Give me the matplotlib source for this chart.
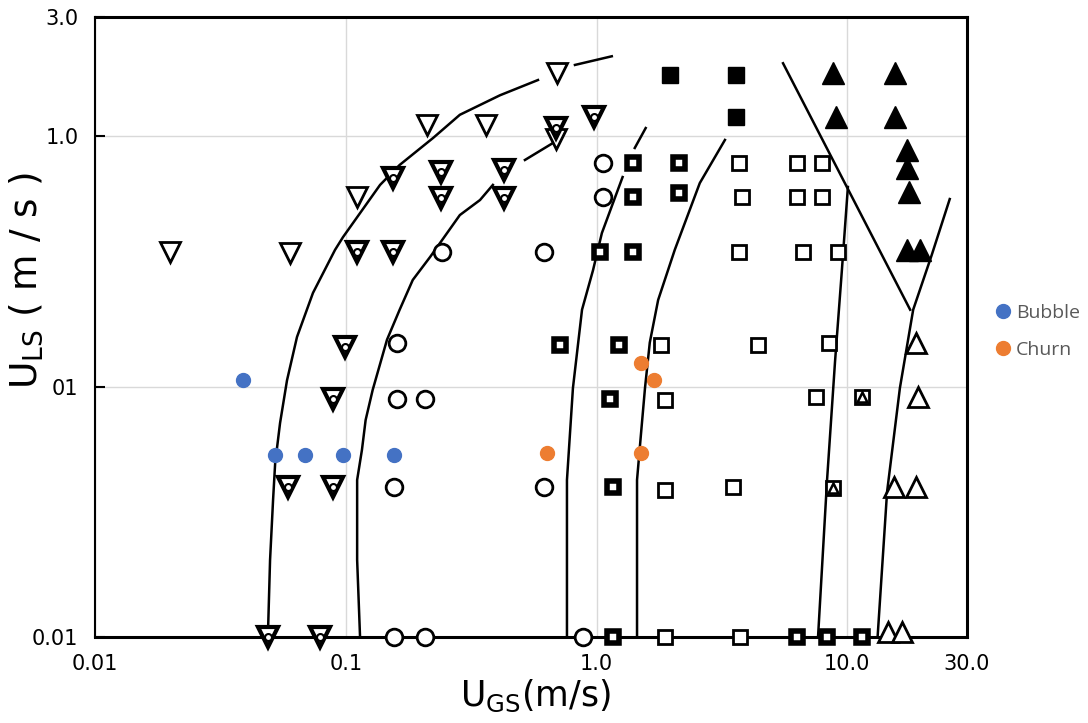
import matplotlib.pyplot as plt
from matplotlib.ticker import NullLocator

plt.rcParams['font.family'] = ['DejaVu Sans']
plt.rcParams['mathtext.fontset'] = 'dejavusans'

# open inverted triangles
tri_open_x = [0.020, 0.060, 0.111, 0.210, 0.362, 0.695, 0.689]
tri_open_y = [0.345, 0.342, 0.573, 1.11, 1.11, 1.80, 0.98]

# inverted triangles with a circle inside
tri_circ_x = [0.111, 0.154, 0.154, 0.240, 0.240, 0.428, 0.428, 0.689, 0.977,
              0.0993, 0.0889, 0.0589, 0.0889, 0.049, 0.0789]
tri_circ_y = [0.345, 0.345, 0.68, 0.72, 0.569, 0.734, 0.569, 1.08, 1.20,
              0.144, 0.0893, 0.0397, 0.0397, 0.01, 0.01]

# open circles
circ_x = [0.616, 0.242, 0.160, 0.160, 0.207, 0.156, 0.616, 0.156, 0.207, 0.883, 1.06, 1.06]
circ_y = [0.345, 0.345, 0.150, 0.0893, 0.0893, 0.0397, 0.0397, 0.01, 0.01, 0.01, 0.783, 0.573]

# bold squares with a dot inside
sq_dot_x = [1.40, 1.40, 2.13, 2.13, 1.03, 1.40, 0.714, 1.23, 1.13, 1.16, 1.16, 6.30, 8.30, 11.4]
sq_dot_y = [0.783, 0.573, 0.783, 0.595, 0.345, 0.345, 0.147, 0.147, 0.0893, 0.0397, 0.01,
            0.01, 0.01, 0.01]

# open squares
sq_open_x = [3.70, 6.30, 7.92, 3.80, 6.30, 7.92, 3.70, 6.65, 9.18, 1.81, 4.40, 8.45,
             1.87, 7.50, 1.87, 3.50, 1.87, 3.73]
sq_open_y = [0.783, 0.783, 0.783, 0.573, 0.573, 0.573, 0.345, 0.345, 0.345, 0.147, 0.147, 0.150,
             0.0885, 0.091, 0.0385, 0.0397, 0.01, 0.01]

# filled squares
sq_fill_x = [1.96, 3.60, 3.60]
sq_fill_y = [1.76, 1.76, 1.20]

# filled triangles
tri_fill_x = [8.77, 15.5, 9.01, 15.5, 17.3, 17.3, 17.6, 17.3, 19.5]
tri_fill_y = [1.79, 1.79, 1.20, 1.19, 0.883, 0.748, 0.600, 0.352, 0.352]

# open triangles
tri_up_x = [18.8, 19.1, 15.3, 18.8, 14.5, 16.5]
tri_up_y = [0.150, 0.091, 0.0397, 0.0397, 0.0105, 0.0105]

# squares with a triangle inside
sq_tri_x = [11.4, 8.77]
sq_tri_y = [0.091, 0.0393]

# added data
bubble_x = [0.039, 0.0523, 0.0687, 0.0975, 0.156]
bubble_y = [0.106, 0.0533, 0.0533, 0.0533, 0.0533]
churn_x = [0.634, 1.50, 1.69, 1.50]
churn_y = [0.0543, 0.124, 0.106, 0.0543]

# transition boundaries
b1_x = [0.049, 0.0499, 0.0513, 0.0523, 0.0547, 0.0583, 0.0639, 0.0740, 0.0906, 0.0975,
        0.137, 0.164, 0.223, 0.285, 0.412, 0.584]
b1_y = [0.0107, 0.0203, 0.0353, 0.0496, 0.0716, 0.106, 0.158, 0.237, 0.352, 0.396,
        0.640, 0.769, 0.986, 1.22, 1.46, 1.68]
b1_dash_x = [0.82, 1.15]
b1_dash_y = [1.93, 2.09]
b2_x = [0.114, 0.111, 0.111, 0.116, 0.120, 0.128, 0.146, 0.164, 0.185, 0.217, 0.285, 0.343, 0.386]
b2_y = [0.01, 0.0203, 0.0424, 0.0559, 0.0736, 0.097, 0.154, 0.203, 0.267, 0.330, 0.485, 0.557, 0.640]
b2_dash_x = [0.518, 0.670]
b2_dash_y = [0.805, 0.941]
b3_x = [0.762, 0.762, 0.805, 0.875, 0.968, 1.05, 1.27]
b3_y = [0.01, 0.0424, 0.0988, 0.203, 0.292, 0.411, 0.688]
b3_dash_x = [1.42, 1.57]
b3_dash_y = [0.899, 1.08]
b4_x = [1.45, 1.45, 1.50, 1.56, 1.63, 1.76, 2.05, 2.58, 3.25]
b4_y = [0.01, 0.0424, 0.063, 0.0988, 0.150, 0.222, 0.352, 0.651, 0.968]
b5_x = [7.64, 8.30, 8.93, 9.51, 10.05]
b5_y = [0.01, 0.0424, 0.126, 0.292, 0.628]
b6_x = [13.2, 14.4, 16.2, 18.3, 21.7, 25.6]
b6_y = [0.01, 0.0380, 0.0988, 0.203, 0.336, 0.562]
b7_x = [5.54, 17.8]
b7_y = [1.96, 0.203]

xticks = [0.01, 0.1, 1.0, 10.0, 30.0]
xtick_labels = ['0.01', '0.1', '1.0', '10.0', '30.0']
yticks = [0.01, 0.1, 1.0, 3.0]
ytick_labels = ['0.01', '01', '1.0', '3.0']

fig = plt.figure(figsize=(10.88, 7.23), dpi=100)
ax = fig.add_axes([0.0873, 0.119, 0.8015, 0.8575])
ax.set_xscale('log')
ax.set_yscale('log')

for bx, by in [(b1_x, b1_y), (b1_dash_x, b1_dash_y), (b2_x, b2_y), (b2_dash_x, b2_dash_y),
               (b3_x, b3_y), (b3_dash_x, b3_dash_y), (b4_x, b4_y), (b5_x, b5_y),
               (b6_x, b6_y), (b7_x, b7_y)]:
    ax.plot(bx, by, color='black', lw=1.8, zorder=2)

k = dict(ls='none', color='black', mfc='white', zorder=3, clip_on=False)
ax.plot(tri_open_x, tri_open_y, marker='v', ms=14, mew=2, **k)
ax.plot(tri_circ_x, tri_circ_y, marker='v', ms=14, mew=3, **k)
ax.plot(tri_circ_x, tri_circ_y, marker='o', ms=5, mew=1.5, **k)
ax.plot(circ_x, circ_y, marker='o', ms=12, mew=2, **k)
ax.plot(sq_dot_x, sq_dot_y, marker='s', ms=8.5, mew=4, **k)
ax.plot(sq_open_x, sq_open_y, marker='s', ms=10, mew=2, **k)
ax.plot(sq_tri_x, sq_tri_y, marker='s', ms=10, mew=2, **k)
ax.plot(sq_tri_x, sq_tri_y, marker='^', ms=7, mew=1.8, **k)
ax.plot(tri_up_x, tri_up_y, marker='^', ms=14, mew=2, **k)
ax.plot(sq_fill_x, sq_fill_y, marker='s', ms=12, ls='none', color='black', zorder=3)
ax.plot(tri_fill_x, tri_fill_y, marker='^', ms=16, ls='none', color='black', zorder=3)

ax.plot(bubble_x, bubble_y, 'o', ms=10, color='#4472C4', label='Bubble', zorder=4)
ax.plot(churn_x, churn_y, 'o', ms=10, color='#ED7D31', label='Churn', zorder=4)

ax.set_xlim(0.01, 30)
ax.set_ylim(0.01, 3.0)
ax.set_xticks(xticks)
ax.set_xticklabels(xtick_labels)
ax.set_yticks(yticks)
ax.set_yticklabels(ytick_labels)
ax.xaxis.set_minor_locator(NullLocator())
ax.yaxis.set_minor_locator(NullLocator())
ax.tick_params(axis='x', length=0, pad=12, labelsize=15)
ax.tick_params(axis='y', direction='in', length=7, width=1.5, pad=12, labelsize=15)
ax.grid(True, color='#d9d9d9', lw=1)
ax.set_axisbelow(True)

for side in ['top', 'bottom', 'right']:
    ax.spines[side].set_linewidth(2.2)
ax.spines['left'].set_linewidth(1.5)

ax.set_xlabel(r'$\mathregular{U_{GS}}$(m/s)', fontsize=25)
ax.set_ylabel(r'$\mathregular{U_{LS}}$ ( m / s )', fontsize=27)
ax.xaxis.set_label_coords(0.505, -0.065)
ax.yaxis.set_label_coords(-0.057, 0.575)

leg = ax.legend(loc='center left', bbox_to_anchor=(1.026, 0.493), frameon=False,
                handlelength=0.6, handletextpad=0.35, labelspacing=1.0, borderaxespad=0,
                prop={'family': 'Open Sans', 'size': 14})
for t in leg.get_texts():
    t.set_color('#595959')

fig.savefig('out.png', dpi=100)
